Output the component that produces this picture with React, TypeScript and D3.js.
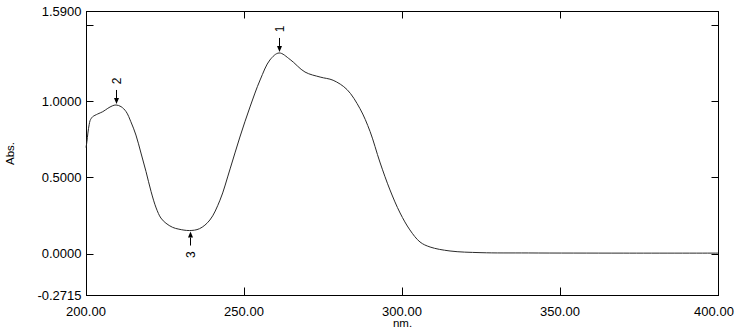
import React from "react";
import * as d3 from "d3";

// UV spectrum
const wavelengths = [
  200.0, 200.3, 200.6, 201.0, 201.3, 201.6, 202.1, 203.7, 205.3, 206.9, 208.3, 209.5,
  211.1, 212.7, 214.2, 215.8, 217.4, 219.0, 220.6, 222.2, 223.7, 225.3, 227.4, 229.4, 232.7,
  235.9, 239.2, 242.4, 245.6, 248.7, 251.9, 255.1, 258.2, 261.1, 264.6, 269.3, 274.1, 278.2,
  282.6, 286.7, 289.9, 293.0, 296.2, 299.4, 302.5, 305.7, 308.9, 315.2, 325.0, 340.0, 370.0, 400.0,
];
const absorbance = [
  0.695, 0.735, 0.79, 0.845, 0.872, 0.884, 0.897, 0.915, 0.93, 0.952, 0.968, 0.974,
  0.963, 0.93, 0.864, 0.777, 0.659, 0.537, 0.406, 0.299, 0.233, 0.199, 0.172, 0.16, 0.151,
  0.163, 0.22, 0.35, 0.555, 0.764, 0.961, 1.138, 1.269, 1.315, 1.272, 1.19, 1.157, 1.136,
  1.075, 0.95, 0.8, 0.6, 0.417, 0.266, 0.155, 0.076, 0.043, 0.017, 0.006, 0.004, 0.003, 0.003,
];

const xTicks = [200, 250, 300, 350, 400];
const yTicks = [-0.2715, 0, 0.5, 1.0, 1.59];
const yInnerTicks = [0, 0.5, 1.0, 1.5];

// picked peaks / valleys
const peakLabels = ["1", "2", "3"];
const peakNm = [261.1, 209.5, 232.9];
const peakAbs = [1.315, 0.974, 0.151];
const peakIsValley = [false, false, true];

const W = 741;
const H = 332;
const margin = { top: 11, right: 23, bottom: 37, left: 86 };
const FONT = "'Liberation Sans', Arial, sans-serif";

export default function App() {
  const x = d3.scaleLinear().domain([200, 400]).range([margin.left, W - margin.right]);
  const y = d3.scaleLinear().domain([-0.2715, 1.59]).range([H - margin.bottom, margin.top]);

  const pts = wavelengths.map((w, i) => [w, absorbance[i]] as [number, number]);
  const line = d3
    .line<[number, number]>()
    .x((d) => x(d[0]))
    .y((d) => y(d[1]))
    .curve(d3.curveCatmullRom.alpha(0.5));

  const x0 = x(200) + 0.5;
  const x1 = x(400) + 0.5;
  const y0 = y(-0.2715) + 0.5;
  const y1 = y(1.59) + 0.5;
  const tick = 7;

  return (
    <svg
      width={W}
      height={H}
      style={{ position: "absolute", left: 0, top: 0, background: "#fff" }}
      fontFamily={FONT}
    >
      {/* frame */}
      <rect x={x0} y={y1} width={x1 - x0} height={y0 - y1} fill="none" stroke="#000" strokeWidth={1} />

      {/* y ticks (inside, both sides) */}
      {yInnerTicks.map((t) => {
        const yy = Math.round(y(t)) + 0.5;
        return (
          <g key={"yt" + t}>
            <line x1={x0} x2={x0 + tick} y1={yy} y2={yy} stroke="#000" />
            <line x1={x1} x2={x1 - tick} y1={yy} y2={yy} stroke="#000" />
          </g>
        );
      })}
      {yTicks.map((t) => (
        <text
          key={"yl" + t}
          x={x0 - 5}
          y={y(t)}
          dy="0.36em"
          textAnchor="end"
          fontSize={13}
          fill="#000"
        >
          {t.toFixed(4)}
        </text>
      ))}

      {/* x ticks (inside, top and bottom) */}
      {xTicks.slice(1, -1).map((t) => {
        const xx = Math.round(x(t)) + 0.5;
        return (
          <g key={"xt" + t}>
            <line x1={xx} x2={xx} y1={y0} y2={y0 - tick - 1} stroke="#000" />
            <line x1={xx} x2={xx} y1={y1} y2={y1 + tick} stroke="#000" />
          </g>
        );
      })}
      {xTicks.map((t, i) => (
        <text
          key={"xl" + t}
          x={x(t) - (i === xTicks.length - 1 ? 4 : 0)}
          y={y0 + 20}
          textAnchor="middle"
          fontSize={13}
          fill="#000"
        >
          {t.toFixed(2)}
        </text>
      ))}

      {/* axis titles */}
      <text x={(x0 + x1) / 2} y={H - 5} textAnchor="middle" fontSize={11.5} fill="#000">
        nm.
      </text>
      <text
        transform={`translate(14,${(y0 + y1) / 2}) rotate(-90)`}
        textAnchor="middle"
        fontSize={11.5}
        fill="#000"
      >
        Abs.
      </text>

      {/* spectrum */}
      <path d={line(pts) || ""} fill="none" stroke="#2a2a2a" strokeWidth={1} />

      {/* peak markers */}
      {peakLabels.map((lab, i) => {
        const px = Math.round(x(peakNm[i])) + 0.5;
        const py = y(peakAbs[i]);
        const s = peakIsValley[i] ? 1 : -1;
        const tip = py + s * 1;
        const tail = py + s * 15;
        const head = py + s * 7;
        return (
          <g key={"pk" + lab}>
            <line x1={px} x2={px} y1={tail} y2={head} stroke="#000" />
            <path d={`M${px - 2.5},${head} L${px + 2.5},${head} L${px},${tip} Z`} fill="#000" />
            <text
              transform={`translate(${px + 0.5},${py + s * 24}) rotate(-90)`}
              textAnchor="middle"
              dy="0.36em"
              fontSize={12}
              fill="#000"
            >
              {lab}
            </text>
          </g>
        );
      })}
    </svg>
  );
}
